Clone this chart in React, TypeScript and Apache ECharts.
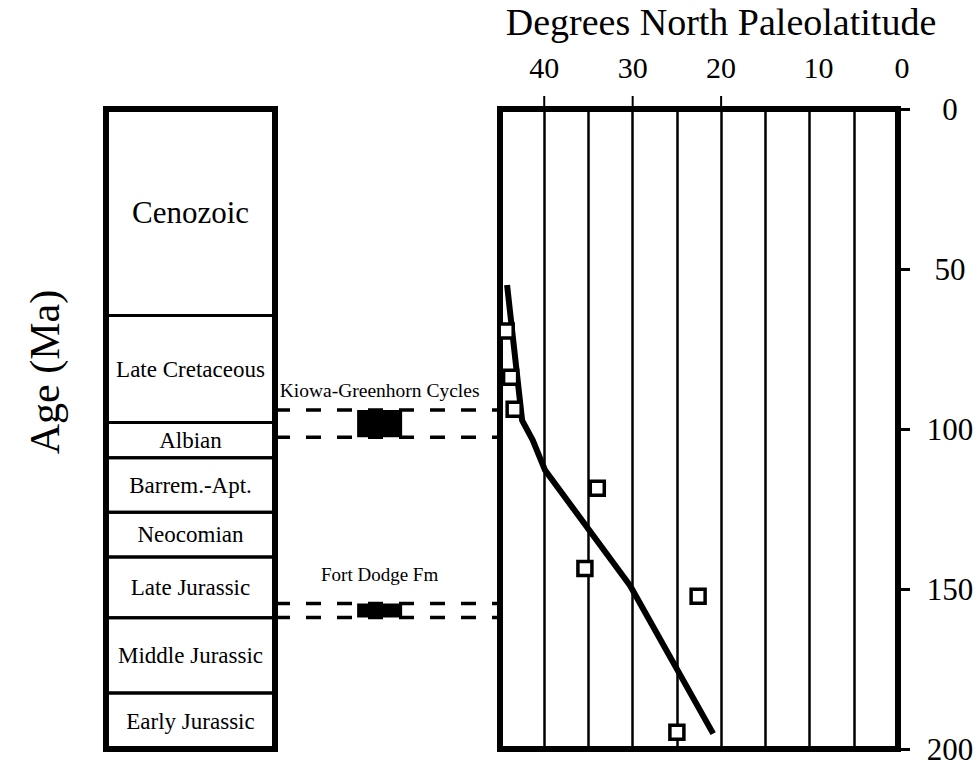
import React, { useEffect, useRef } from "react";
import * as echarts from "echarts";

// Stratigraphic column (ages in Ma)
const ERA_NAMES = ["Cenozoic", "Late Cretaceous", "Albian", "Barrem.-Apt.", "Neocomian", "Late Jurassic", "Middle Jurassic", "Early Jurassic"];
const ERA_BOUNDS = [0, 64.5, 98, 109, 126, 140, 159, 182.5, 200];

// Paleolatitude axis labels and age ticks
const LAT_LABELS = [40, 30, 20, 10, 0];
const LAT_TICKS = [40, 30, 20];
const AGE_TICKS = [0, 50, 100, 150, 200];

// Apparent polar wander path (paleolatitude vs age)
const PATH_LAT = [44.2, 42.5, 41.3, 39.9, 30.3, 20.9];
const PATH_AGE = [55, 97.3, 103.5, 112.9, 148.9, 195.2];

// Paleomagnetic sites
const SITE_LAT = [44.3, 43.8, 43.4, 34.0, 35.4, 22.6, 25.0];
const SITE_AGE = [69.4, 83.8, 93.8, 118.5, 143.6, 152.3, 194.8];

// Sedimentary intervals
const EVENT_NAMES = ["Kiowa-Greenhorn Cycles", "Fort Dodge Fm"];
const EVENT_TOP = [94.1, 154.5];
const EVENT_BASE = [102.6, 158.9];

const FONT = "'Liberation Serif', 'Times New Roman', serif";

export default function App() {
  const ref = useRef<HTMLDivElement>(null);

  useEffect(() => {
    if (!ref.current) return;
    const chart = echarts.init(ref.current, null, { renderer: "svg" });

    const yBase = {
      type: "value",
      min: AGE_TICKS[0],
      max: AGE_TICKS[AGE_TICKS.length - 1],
      interval: 50,
      inverse: true,
    };

    const series: any[] = [];

    // Stratigraphic column as a custom series
    series.push({
      type: "custom",
      xAxisIndex: 0,
      yAxisIndex: 0,
      silent: true,
      data: ERA_NAMES.map((n, i) => [ERA_BOUNDS[i], ERA_BOUNDS[i + 1], i]),
      renderItem: (params: any, api: any) => {
        const i = api.value(2);
        const p0 = api.coord([0, api.value(0)]);
        const p1 = api.coord([1, api.value(1)]);
        return {
          type: "group",
          children: [
            {
              type: "rect",
              shape: { x: p0[0], y: p0[1], width: p1[0] - p0[0], height: p1[1] - p0[1] },
              style: { fill: "none", stroke: "#000", lineWidth: 3 },
            },
            {
              type: "text",
              x: (p0[0] + p1[0]) / 2,
              y: (p0[1] + p1[1]) / 2,
              style: {
                text: ERA_NAMES[i],
                fontFamily: FONT,
                fontSize: i === 0 ? 31 : 23,
                fill: "#000",
                align: "center",
                verticalAlign: "middle",
              },
            },
          ],
        };
      },
    });

    // Short tick marks above the top axis at labelled latitudes (custom series through the axis scales)
    series.push({
      type: "custom",
      xAxisIndex: 2,
      yAxisIndex: 2,
      silent: true,
      clip: false,
      z: 10,
      data: LAT_TICKS.map((v) => [v, AGE_TICKS[0]]),
      renderItem: (params: any, api: any) => {
        const p = api.coord([api.value(0), api.value(1)]);
        return {
          type: "line",
          shape: { x1: p[0], y1: p[1] - 2, x2: p[0], y2: p[1] - 13 },
          style: { stroke: "#000", lineWidth: 2 },
        };
      },
    });

    const labelDist = [10, 19];
    const labelSize = [19.5, 19];
    EVENT_NAMES.forEach((name, e) => {
      [EVENT_TOP[e], EVENT_BASE[e]].forEach((age, k) => {
        series.push({
          type: "line",
          xAxisIndex: 1,
          yAxisIndex: 1,
          symbol: "none",
          silent: true,
          data: [
            [0, age],
            [1, age],
          ],
          lineStyle: { color: "#000", width: 3.5, type: [15, 16] },
          markArea:
            k === 0
              ? {
                  silent: true,
                  itemStyle: { color: "#000" },
                  data: [
                    [
                      {
                        coord: [0.365, EVENT_TOP[e]],
                        label: {
                          show: true,
                          position: "top",
                          distance: labelDist[e],
                          formatter: name,
                          color: "#000",
                          fontFamily: FONT,
                          fontSize: labelSize[e],
                        },
                      },
                      { coord: [0.565, EVENT_BASE[e]] },
                    ],
                  ],
                }
              : undefined,
        });
      });
    });

    series.push({
      type: "line",
      xAxisIndex: 2,
      yAxisIndex: 2,
      symbol: "none",
      data: PATH_LAT.map((v, i) => [v, PATH_AGE[i]]),
      lineStyle: { color: "#000", width: 6 },
      z: 3,
    });
    series.push({
      type: "scatter",
      xAxisIndex: 2,
      yAxisIndex: 2,
      symbol: "rect",
      symbolSize: 14,
      data: SITE_LAT.map((v, i) => [v, SITE_AGE[i]]),
      itemStyle: { color: "#fff", borderColor: "#000", borderWidth: 3.5, opacity: 1 },
      z: 4,
    });

    const labelStyle = { fontSize: 30, fontFamily: FONT, color: "#000" };

    const option: any = {
      animation: false,
      backgroundColor: "#fff",
      textStyle: { fontFamily: FONT, color: "#000" },
      graphic: [
        {
          type: "text",
          x: 45,
          y: 372,
          rotation: Math.PI / 2,
          style: {
            text: "Age (Ma)",
            fontFamily: FONT,
            fontSize: 42,
            fill: "#000",
            align: "center",
            verticalAlign: "middle",
          },
        },
      ],
      grid: [
        { left: 106, top: 109, width: 169, height: 640, show: true, borderWidth: 6, borderColor: "#000", backgroundColor: "transparent", outerBoundsMode: "none" },
        { left: 275, top: 109, width: 225, height: 640, show: false, outerBoundsMode: "none" },
        { left: 500, top: 109, width: 398, height: 640, show: true, borderWidth: 6, borderColor: "#000", backgroundColor: "transparent", outerBoundsMode: "none" },
      ],
      xAxis: [
        { type: "value", gridIndex: 0, min: 0, max: 1, show: false },
        { type: "value", gridIndex: 1, min: 0, max: 1, show: false },
        {
          type: "value",
          gridIndex: 2,
          position: "top",
          min: 0,
          max: 45,
          interval: 5,
          inverse: true,
          name: "Degrees North Paleolatitude",
          nameLocation: "middle",
          nameGap: 68,
          nameTextStyle: { fontSize: 38, fontFamily: FONT, color: "#000", padding: [0, 0, 0, 44] },
          axisLine: { show: true, lineStyle: { color: "#000", width: 6 } },
          axisTick: { show: false },
          axisLabel: {
            margin: 27,
            ...labelStyle,
            formatter: (v: number) => {
              if (!LAT_LABELS.includes(v)) return "";
              if (v === 10) return "{r10|10}";
              if (v === 0) return "{r0|0}";
              return "{n|" + v + "}";
            },
            rich: {
              n: { ...labelStyle },
              r10: { ...labelStyle, padding: [0, 0, 0, 18] },
              r0: { ...labelStyle, padding: [0, 0, 0, 8] },
            },
          },
          splitLine: { show: true, lineStyle: { color: "#000", width: 2.5 } },
        },
      ],
      yAxis: [
        { ...yBase, gridIndex: 0, show: false },
        { ...yBase, gridIndex: 1, show: false },
        {
          ...yBase,
          gridIndex: 2,
          position: "right",
          axisLine: { show: true, lineStyle: { color: "#000", width: 6 } },
          axisTick: { show: true, inside: false, length: 12, lineStyle: { color: "#000", width: 3 } },
          axisLabel: {
            margin: 52,
            align: "center",
            fontSize: 31,
            fontFamily: FONT,
            color: "#000",
            formatter: (v: number) => "{n|" + v + "}",
            rich: { n: { fontSize: 31, fontFamily: FONT, color: "#000" } },
          },
          splitLine: { show: false },
        },
      ],
      series,
    };

    chart.setOption(option);
    return () => chart.dispose();
  }, []);

  return (
    <div
      ref={ref}
      style={{ position: "fixed", left: 0, top: 0, width: 977, height: 766, background: "#fff" }}
    />
  );
}
